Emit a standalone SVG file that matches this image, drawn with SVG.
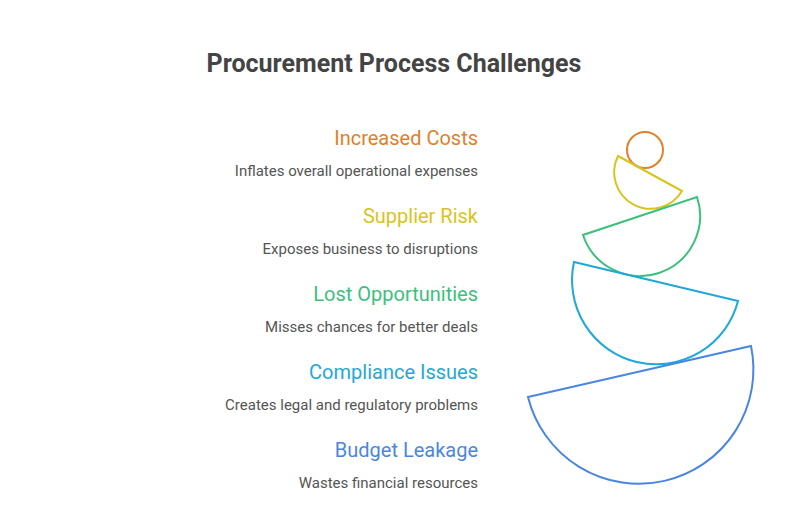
<svg xmlns="http://www.w3.org/2000/svg" width="789" height="525" viewBox="0 0 789 525">
<style>
.t{font-family:Roboto,"Liberation Sans",sans-serif;font-size:20px;text-anchor:end}
.d{font-family:Roboto,"Liberation Sans",sans-serif;font-size:15px;fill:#555;text-anchor:end}
.s{fill:none;stroke-width:2}
</style>
<rect width="789" height="525" fill="#fff"/>
<text x="394" y="72" text-anchor="middle" style="font-family:Roboto,'Liberation Sans',sans-serif;font-size:25px;font-weight:bold;fill:#444">Procurement Process Challenges</text>
<g id="n1"><text class="t" x="478" y="145" fill="#e0802a">Increased Costs</text><text class="d" x="478" y="176">Inflates overall operational expenses</text><circle class="s" cx="645" cy="150" r="18" stroke="#e0802a"/></g>
<g id="n2"><text class="t" x="478" y="223" fill="#d9c41c">Supplier Risk</text><text class="d" x="478" y="254">Exposes business to disruptions</text><path class="s" stroke="#d9c41c" d="M618 156 A36.5 36.5 0 0 0 682 191 Z"/></g>
<g id="n3"><text class="t" x="478" y="301" fill="#3cc07c">Lost Opportunities</text><text class="d" x="478" y="332">Misses chances for better deals</text><path class="s" stroke="#3cc07c" d="M583 235 A60 60 0 0 0 697 197 Z"/></g>
<g id="n4"><text class="t" x="478" y="379" fill="#1fa8d8">Compliance Issues</text><text class="d" x="478" y="410">Creates legal and regulatory problems</text><path class="s" stroke="#1fa8d8" d="M574 262 A84.3 84.3 0 0 0 738 301 Z"/></g>
<g id="n5"><text class="t" x="478" y="457" fill="#4a86e0">Budget Leakage</text><text class="d" x="478" y="488">Wastes financial resources</text><path class="s" stroke="#4a86e0" d="M528 397 A114.4 114.4 0 0 0 751 346 Z"/></g>
<g id="connectors"/>
</svg>
